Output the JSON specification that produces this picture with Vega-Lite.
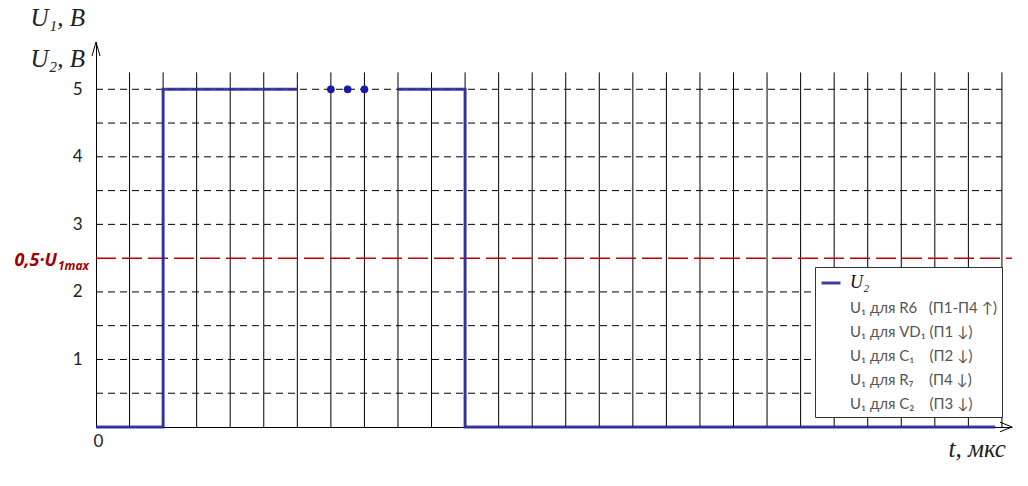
{
  "$schema": "https://vega.github.io/schema/vega-lite/v6.json",
  "width": 916,
  "height": 385,
  "autosize": {"type": "none"},
  "padding": {"left": 96, "top": 42, "right": 16, "bottom": 59},
  "background": "white",
  "config": {"view": {"stroke": null}, "font": "Lato"},
  "datasets": {
    "vlines": [{"t":1},{"t":2},{"t":3},{"t":4},{"t":5},{"t":6},{"t":7},{"t":8},{"t":9},{"t":10},{"t":11},{"t":12},{"t":13},{"t":14},{"t":15},{"t":16},{"t":17},{"t":18},{"t":19},{"t":20},{"t":21},{"t":22},{"t":23},{"t":24},{"t":25},{"t":26},{"t":27}],
    "hlines": [{"v":0.5},{"v":1},{"v":1.5},{"v":2},{"v":3},{"v":3.5},{"v":4},{"v":4.5},{"v":5}],
    "pulse": [
      {"t":0,"u":0,"seg":"a","series":"U₂"},
      {"t":2,"u":5,"seg":"a","series":"U₂"},
      {"t":6,"u":5,"seg":"a","series":"U₂"},
      {"t":9,"u":5,"seg":"b","series":"U₂"},
      {"t":11,"u":0,"seg":"b","series":"U₂"},
      {"t":26.8,"u":0,"seg":"b","series":"U₂"}
    ],
    "dots": [{"t":7,"u":5},{"t":7.5,"u":5},{"t":8,"u":5}]
  },
  "layer": [
    {
      "data": {"name": "vlines"},
      "mark": {"type": "rule", "color": "black", "strokeWidth": 1},
      "encoding": {
        "x": {"field": "t", "type": "quantitative",
          "scale": {"domain": [0, 27.3], "nice": false, "zero": false},
          "axis": {"title": "t, мкс", "values": [0], "format": "d", "grid": false, "ticks": false,
            "domainColor": "black", "domainWidth": 1,
            "labelFontSize": 17, "labelFont": "Lato", "labelColor": "#222", "labelPadding": 6, "labelOffset": -3,
            "titleFont": "Liberation Serif", "titleFontStyle": "italic", "titleFontWeight": "normal", "titleFontSize": 25,
            "titleColor": "#222", "titleX": 852, "titleY": 29, "titleAlign": "left", "titleBaseline": "alphabetic", "titleAnchor": null}
        },
        "y": {"datum": 0, "type": "quantitative",
          "scale": {"domain": [0, 5.7], "nice": false},
          "axis": {"title": ["U₁, B", "U₂, B"], "values": [1,2,3,4,5], "format": "d", "grid": false, "ticks": false,
            "domainColor": "black", "domainWidth": 1,
            "labelFontSize": 17, "labelFont": "Lato", "labelColor": "#222", "labelPadding": 14,
            "titleFont": "Liberation Serif", "titleFontStyle": "italic", "titleFontWeight": "normal", "titleFontSize": 25,
            "titleColor": "#222", "titleAngle": 0, "titleX": -66, "titleY": -17, "titleAlign": "left", "titleBaseline": "alphabetic", "titleLineHeight": 41, "titleAnchor": null}
        },
        "y2": {"datum": 5.25}
      }
    },
    {
      "data": {"name": "hlines"},
      "mark": {"type": "rule", "color": "black", "strokeWidth": 1, "strokeDash": [7, 5]},
      "encoding": {
        "x": {"datum": 0, "type": "quantitative"},
        "x2": {"datum": 27},
        "y": {"field": "v", "type": "quantitative"}
      }
    },
    {
      "data": {"values": [{}]},
      "mark": {"type": "rule", "color": "#c00000", "strokeWidth": 1.5, "strokeDash": [20, 6]},
      "encoding": {
        "x": {"datum": 0, "type": "quantitative"},
        "x2": {"datum": 27.3},
        "y": {"datum": 2.5, "type": "quantitative"}
      }
    },
    {
      "data": {"name": "pulse"},
      "mark": {"type": "line", "interpolate": "step-after", "strokeWidth": 3, "opacity": 0.9},
      "encoding": {
        "x": {"field": "t", "type": "quantitative"},
        "y": {"field": "u", "type": "quantitative"},
        "detail": {"field": "seg"},
        "color": {"field": "series", "type": "nominal",
          "scale": {
            "domain": ["U₂", "U₁ для R6\u00a0\u00a0\u00a0(П1-П4 ↑)", "U₁ для VD₁ (П1 ↓)", "U₁ для C₁\u00a0\u00a0\u00a0\u00a0(П2 ↓)", "U₁ для R₇\u00a0\u00a0\u00a0\u00a0(П4 ↓)", "U₁ для C₂\u00a0\u00a0\u00a0\u00a0(П3 ↓)"],
            "range": ["#2a2aa0", "white", "white", "white", "white", "white"]
          },
          "legend": {
            "title": null, "orient": "none", "legendX": 719, "legendY": 225,
            "padding": 5, "strokeColor": "#333", "fillColor": "white", "cornerRadius": 0,
            "symbolType": "stroke", "symbolSize": 361, "symbolStrokeWidth": 3,
            "labelOffset": 8, "labelLimit": 400,
            "labelFont": {"expr": "datum.index === 0 ? 'Liberation Serif' : 'Lato'"},
            "labelFontStyle": {"expr": "datum.index === 0 ? 'italic' : 'normal'"},
            "labelFontSize": {"expr": "datum.index === 0 ? 18 : 15"},
            "labelColor": {"expr": "datum.index === 0 ? '#111' : '#555'"},
            "rowPadding": 5
          }
        }
      }
    },
    {
      "data": {"name": "dots"},
      "mark": {"type": "point", "filled": true, "size": 60, "color": "#1a1aa8", "opacity": 1},
      "encoding": {
        "x": {"field": "t", "type": "quantitative"},
        "y": {"field": "u", "type": "quantitative"}
      }
    },
    {
      "data": {"values": [{}]},
      "mark": {"type": "point", "shape": "M-1,3.5L0,0L1,3.5", "filled": false, "size": 64, "stroke": "black", "strokeWidth": 1, "opacity": 1},
      "encoding": {
        "x": {"datum": 0, "type": "quantitative"},
        "y": {"datum": 5.7, "type": "quantitative"}
      }
    },
    {
      "data": {"values": [{}]},
      "mark": {"type": "point", "shape": "M-3,-1.2L0,0L-3,1.2", "filled": false, "size": 64, "stroke": "black", "strokeWidth": 1, "opacity": 1},
      "encoding": {
        "x": {"datum": 27.3, "type": "quantitative"},
        "y": {"datum": 0, "type": "quantitative"}
      }
    },
    {
      "data": {"values": [{}]},
      "mark": {"type": "text", "text": "0,5·U", "align": "right", "baseline": "alphabetic", "dx": -39, "dy": 8,
        "font": "Open Sans", "fontSize": 18, "fontWeight": "bold", "fontStyle": "italic", "color": "#a00000"},
      "encoding": {
        "x": {"datum": 0, "type": "quantitative"},
        "y": {"datum": 2.5, "type": "quantitative"}
      }
    },
    {
      "data": {"values": [{}]},
      "mark": {"type": "text", "text": "1max", "align": "left", "baseline": "alphabetic", "dx": -38, "dy": 12,
        "font": "Open Sans", "fontSize": 12, "fontWeight": "bold", "fontStyle": "italic", "color": "#a00000"},
      "encoding": {
        "x": {"datum": 0, "type": "quantitative"},
        "y": {"datum": 2.5, "type": "quantitative"}
      }
    }
  ]
}
